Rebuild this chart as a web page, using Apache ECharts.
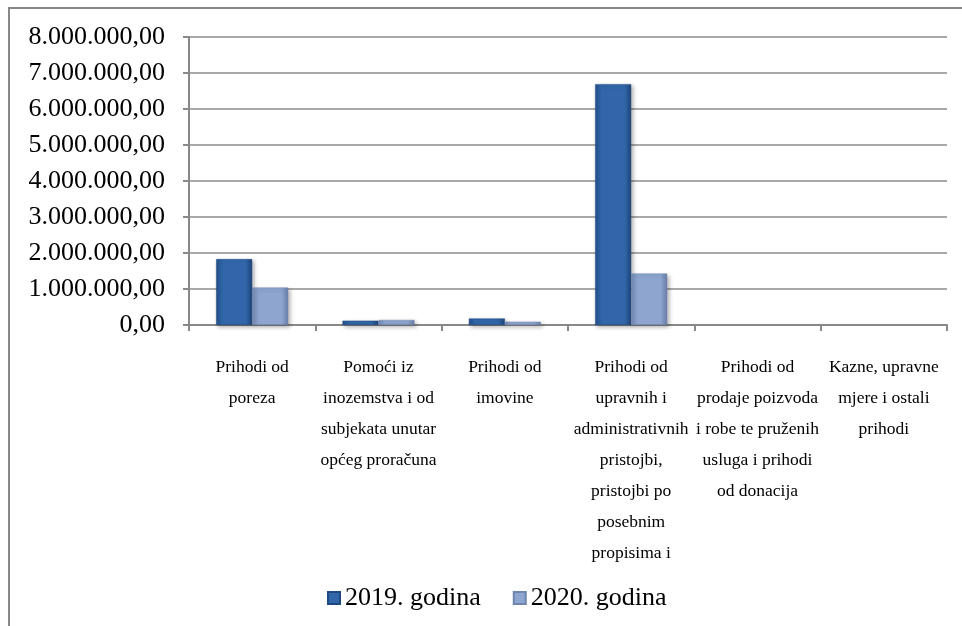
<!DOCTYPE html>
<html>
<head>
<meta charset="utf-8">
<script src="https://cdn.jsdelivr.net/npm/echarts@6/dist/echarts.min.js"></script>
<style>html,body{margin:0;padding:0;background:#fff;}#c{width:962px;height:626px;}</style>
</head>
<body>
<div id="c"></div>
<script>
var categories = [
  "Prihodi od\nporeza",
  "Pomoći iz\ninozemstva i od\nsubjekata unutar\nopćeg proračuna",
  "Prihodi od\nimovine",
  "Prihodi od\nupravnih i\nadministrativnih\npristojbi,\npristojbi po\nposebnim\npropisima i",
  "Prihodi od\nprodaje poizvoda\ni robe te pruženih\nusluga i prihodi\nod donacija",
  "Kazne, upravne\nmjere i ostali\nprihodi"
];
var seriesNames = ["2019. godina", "2020. godina"];
var values2019 = [1830000, 120000, 180000, 6690000, 0, 0];
var values2020 = [1040000, 140000, 90000, 1430000, 0, 0];

function fmt(v) {
  var s = Math.round(v).toString().replace(/\B(?=(\d{3})+(?!\d))/g, ".");
  return s + ",00";
}
function grad(edge, mid, dark) {
  return new echarts.graphic.LinearGradient(0, 0, 1, 0, [
    {offset: 0, color: edge}, {offset: 0.18, color: mid},
    {offset: 0.82, color: mid}, {offset: 1, color: dark}
  ]);
}
function toData(arr) {
  return arr.map(function (v) {
    if (v === 0) {
      return {value: v, itemStyle: {shadowBlur: 0, shadowOffsetX: 0, shadowOffsetY: 0, borderWidth: 0, opacity: 0}};
    }
    return v;
  });
}
var chart = echarts.init(document.getElementById('c'));
var serif = "'Liberation Serif', 'DejaVu Serif', serif";
chart.setOption({
  animation: false,
  backgroundColor: '#fff',
  grid: {left: 189, top: 37, right: 15, bottom: 301, containLabel: false},
  legend: {
    data: seriesNames,
    top: 580, left: 322,
    itemWidth: 12, itemHeight: 12, itemGap: 32,
    icon: 'rect',
    textStyle: {fontFamily: serif, fontSize: 26, color: '#000'}
  },
  xAxis: {
    type: 'category',
    data: categories,
    axisLine: {lineStyle: {color: '#888', width: 2}},
    axisTick: {show: true, length: 6, lineStyle: {color: '#888', width: 2}},
    axisLabel: {
      interval: 0, margin: 27,
      fontFamily: serif, fontSize: 17.5, color: '#000', lineHeight: 31,
      verticalAlign: 'top'
    }
  },
  yAxis: {
    type: 'value', min: 0, max: 8000000, interval: 1000000,
    axisLine: {show: true, lineStyle: {color: '#888', width: 2}},
    axisTick: {show: true, length: 6, lineStyle: {color: '#888', width: 2}},
    splitLine: {lineStyle: {color: '#8c8c8c', width: 1.5}},
    axisLabel: {formatter: fmt, fontFamily: serif, fontSize: 26, color: '#000', margin: 24}
  },
  series: [
    {
      name: seriesNames[0], type: 'bar', data: toData(values2019),
      barWidth: 36, barGap: '0%',
      itemStyle: {
        color: grad('#24508c', '#3167aa', '#1d4478'),
        borderColor: '#1f4a80', borderWidth: 0.5,
        shadowColor: 'rgba(0,0,0,0.3)', shadowBlur: 4, shadowOffsetX: 2, shadowOffsetY: 2
      }
    },
    {
      name: seriesNames[1], type: 'bar', data: toData(values2020),
      barWidth: 36,
      itemStyle: {
        color: grad('#7189b5', '#8da5cf', '#677ea8'),
        borderColor: '#6f86b0', borderWidth: 0.5,
        shadowColor: 'rgba(0,0,0,0.3)', shadowBlur: 4, shadowOffsetX: 2, shadowOffsetY: 2
      }
    }
  ],
  graphic: [{
    type: 'polyline',
    shape: {points: [[9, 626], [9, 8], [962, 8]]},
    style: {stroke: '#888', lineWidth: 2, fill: null}
  }]
});
</script>
</body>
</html>
